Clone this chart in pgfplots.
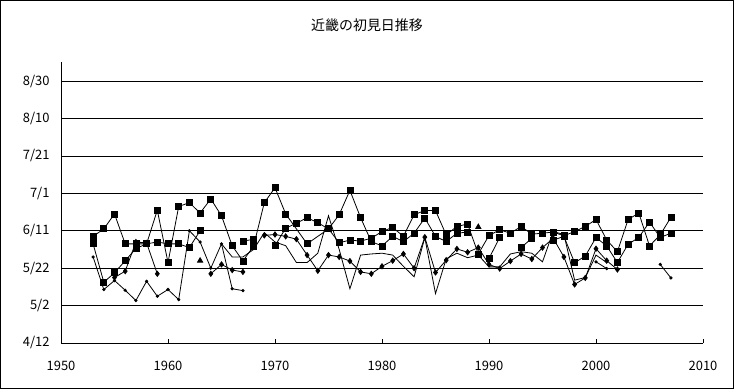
\documentclass[border=0pt]{standalone}
\usepackage{pgfplots}
\pgfplotsset{compat=1.18}
\usepackage{fontspec}
\setmainfont{Noto Sans CJK JP}
\begin{document}
\begin{tikzpicture}[x=1bp,y=1bp]
\useasboundingbox (0,0) rectangle (734,389);
\draw[line width=1bp] (0.5,0.5) rectangle (733.5,388.5);
\node[font=\fontsize{14}{14}\selectfont] at (367,364) {近畿の初見日推移};
\begin{axis}[
  at={(61bp,46bp)}, anchor=south west,
  scale only axis, width=642bp, height=280.6bp,
  xmin=1950, xmax=2010, ymin=0, ymax=150,
  xtick={1950,1960,...,2010},
  ytick={0,20,...,140},
  yticklabels={4/12,5/2,5/22,6/11,7/1,7/21,8/10,8/30},
  ymajorgrids, grid style={black, line width=0.8bp},
  axis x line*=bottom, axis y line*=left,
  axis line style={black, line width=0.8bp},
  xtick align=inside, major tick length=4bp,
  ytick style={draw=none},
  xtick style={black, line width=0.8bp},
  /pgf/number format/assume math mode=true,
  xticklabel style={/pgf/number format/1000 sep=, font=\fontsize{13}{13}\selectfont, yshift=-15bp},
  yticklabel style={font=\fontsize{13}{13}\selectfont, xshift=-8bp},
  unbounded coords=jump,
  clip=false,
  every axis plot/.append style={black, line width=0.8bp},
]
% S1 squares
\addplot[mark=square*, mark size=3bp] coordinates {
(1953,57)(1954,61)(1955,69)(1956,53)(1957,53)(1958,53)(1959,71)(1960,43)(1961,73)(1962,75)(1963,69.5)(1964,77)(1965,68)(1966,52)(1967,43.8)(1968,51.8)(1969,75)(1970,83)(1971,69)(1973,53)(1975,61)(1976,53.6)(1977,55)(1978,54.5)(1979,56)(1980,59.6)(1981,61.8)(1982,57)(1983,68.6)(1984,70.8)(1985,70.8)(1986,57.8)(1987,62.3)(1988,63.6)(1989,47.6)(1990,57.5)(1991,60.5)(1992,58.7)(1993,62.3)(1994,58.2)(1995,58.7)(1996,59.3)(1997,57.3)(1998,59.6)(1999,62.3)(2000,66)(2001,55.1)(2002,48.8)(2003,66)(2004,69.5)(2005,51.9)(2006,57.8)(2007,67.2)
};
% S2 squares
\addplot[mark=square*, mark size=3bp] coordinates {
(1953,53)(1954,32.5)(1955,37.5)(1956,44)(1957,50.5)(1958,53)(1959,54)(1960,53)(1961,53)(1962,51)(1963,60)(1964,nan)(1967,54.5)(1968,55.4)(1969,nan)(1970,52)(1971,61.4)(1972,64)(1973,67)(1974,64.3)(1975,61)(1976,68.6)(1977,81.6)(1978,67)(1979,54.2)(1980,51.9)(1981,57)(1982,54.2)(1983,58.7)(1984,66.8)(1985,57)(1986,54.2)(1987,58.7)(1988,59.3)(1989,nan)(1990,45.2)(1991,56.4)(1992,nan)(1993,51)(1994,56)(1995,nan)(1996,55)(1997,57)(1998,42.9)(1999,46.5)(2000,56.4)(2001,51.9)(2002,43)(2003,52.8)(2004,56.4)(2005,64.7)(2006,56.4)(2007,58.7)
};
% S3 diamonds
\addplot[mark=diamond*, mark size=2.6bp] coordinates {
(1955,35)(1956,38.4)(1957,54)(1958,53.5)(1959,37)(1960,nan)(1964,37)(1965,42)(1966,39)(1967,38)(1968,nan)(1969,57.5)(1970,58)(1971,57)(1972,55.5)(1973,47)(1974,38.6)(1975,47)(1976,46)(1977,43.8)(1978,38)(1979,37)(1980,41)(1981,44)(1982,47.6)(1983,40)(1984,56.6)(1985,37.7)(1986,44.3)(1987,50.3)(1988,48.5)(1989,51)(1990,42)(1991,39.8)(1992,43.8)(1993,47.6)(1994,44.9)(1995,51)(1996,56)(1997,46)(1998,31.3)(1999,34.8)(2000,50.4)(2001,44)(2002,39.3)
};
% S4 small dots
\addplot[mark=*, mark size=1.2bp] coordinates {
(1953,46)(1954,28.6)(1955,33.4)(1956,28.2)(1957,22.7)(1958,33)(1959,25)(1960,28.6)(1961,23.2)(1962,60)(1963,54)(1964,40)(1965,53)(1966,29)(1967,28)(1968,nan)(2000,43.4)(2001,39.8)(2002,nan)(2006,42)(2007,34.8)
};
% S5 triangles
\addplot[only marks, mark=triangle*, mark size=3bp] coordinates {
(1963,44)(1989,62)
};
% S6 plain line
\addplot[mark=none] coordinates {
(1965,53)(1966,46)(1967,46)(1968,50)(1969,59)(1970,54)(1971,52)(1972,43)(1973,43)(1974,48)(1975,68)(1976,50)(1977,29)(1978,47)(1979,47.6)(1980,48)(1981,47)(1982,41)(1983,35.4)(1984,56.3)(1985,26.4)(1986,45)(1987,48)(1988,45.6)(1989,47)(1990,40.7)(1991,40.7)(1992,47.6)(1993,48.8)(1994,48)(1995,43.4)(1996,59.6)(1997,58)(1998,33.6)(1999,35)(2000,47)(2001,43)
};
\end{axis}
\end{tikzpicture}
\end{document}
